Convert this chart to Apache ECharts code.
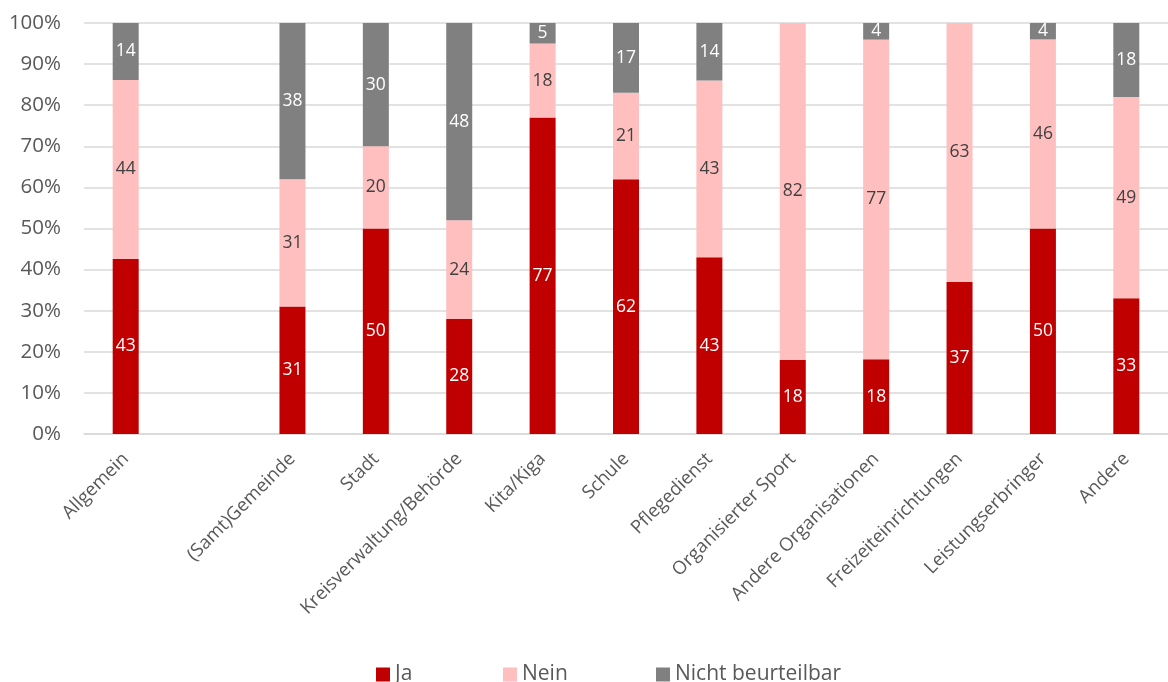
<!DOCTYPE html>
<html>
<head>
<meta charset="utf-8">
<script src="https://cdn.jsdelivr.net/npm/echarts@6/dist/echarts.min.js"></script>
<style>
  html, body { margin: 0; padding: 0; background: #fff; }
  #chart { width: 1168px; height: 682px; }
</style>
</head>
<body>
<div id="chart"></div>
<script>
// Categories (one blank slot keeps the gap after "Allgemein")
const categories = [
  'Allgemein', '', '(Samt)Gemeinde', 'Stadt', 'Kreisverwaltung/Behörde',
  'Kita/Kiga', 'Schule', 'Pflegedienst', 'Organisierter Sport',
  'Andere Organisationen', 'Freizeiteinrichtungen', 'Leistungserbringer', 'Andere'
];

// Answer shares per category (as labelled, in %)
const ja    = [43, null, 31, 50, 28, 77, 62, 43, 18, 18, 37, 50, 33];
const nein  = [44, null, 31, 20, 24, 18, 21, 43, 82, 77, 63, 46, 49];
const nicht = [14, null, 38, 30, 48,  5, 17, 14,  0,  4,  0,  4, 18];

const seriesNames = ['Ja', 'Nein', 'Nicht beurteilbar'];
const yTicks = [0, 10, 20, 30, 40, 50, 60, 70, 80, 90, 100];

const FONT = '"Open Sans", sans-serif';

// Each column is scaled to 100 % (the rounded labels do not always add up to 100)
const totals = categories.map((_, i) =>
  (ja[i] || 0) + (nein[i] || 0) + (nicht[i] || 0));
function toShare(arr) {
  return arr.map((v, i) => (v == null || totals[i] === 0)
    ? null
    : { value: v / totals[i] * 100, raw: v });
}

function labelFmt(p) {
  const d = p.data;
  if (!d || !d.raw) return '';
  return String(d.raw);
}

function makeSeries(name, arr, color, labelColor) {
  return {
    name: name,
    type: 'bar',
    stack: 'total',
    barWidth: 26,
    data: toShare(arr),
    itemStyle: { color: color },
    label: {
      show: true,
      position: 'inside',
      formatter: labelFmt,
      color: labelColor,
      fontFamily: FONT,
      fontSize: 17.5
    },
    emphasis: { disabled: true }
  };
}

const chart = echarts.init(document.getElementById('chart'), null, { renderer: 'canvas' });

function legendAt(name, left) {
  return {
    data: [name],
    left: left,
    top: 664,
    itemWidth: 14,
    itemHeight: 14,
    itemGap: 0,
    icon: 'rect',
    textStyle: { color: '#595959', fontFamily: FONT, fontSize: 21 },
    padding: 0
  };
}

chart.setOption({
  animation: false,
  backgroundColor: '#ffffff',
  grid: { left: 84, top: 23, width: 1087, height: 411, containLabel: false },
  legend: [
    legendAt(seriesNames[0], 376),
    legendAt(seriesNames[1], 503),
    legendAt(seriesNames[2], 656)
  ],
  xAxis: {
    type: 'category',
    data: categories,
    axisLine: { show: true, lineStyle: { color: '#D9D9D9', width: 1.5 } },
    axisTick: { show: false },
    axisLabel: {
      interval: 0,
      rotate: 45,
      margin: 22,
      color: '#595959',
      fontFamily: FONT,
      fontSize: 18.5
    }
  },
  yAxis: {
    type: 'value',
    min: yTicks[0],
    max: yTicks[yTicks.length - 1],
    interval: 10,
    axisLine: { show: false },
    axisTick: { show: false },
    splitLine: { lineStyle: { color: '#D9D9D9', width: 1.5 } },
    axisLabel: {
      formatter: '{value}%',
      margin: 23,
      color: '#595959',
      fontFamily: FONT,
      fontSize: 20.5
    }
  },
  series: [
    makeSeries(seriesNames[0], ja, '#C00000', '#FFFFFF'),
    makeSeries(seriesNames[1], nein, '#FFBFBF', '#404040'),
    makeSeries(seriesNames[2], nicht, '#808080', '#FFFFFF')
  ]
});
</script>
</body>
</html>
